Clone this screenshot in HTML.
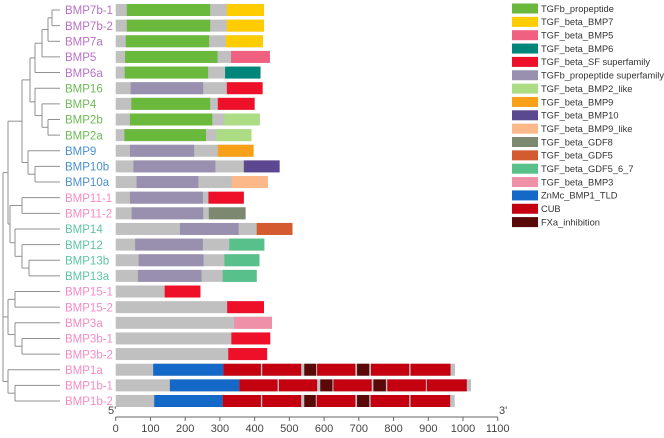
<!DOCTYPE html>
<html><head><meta charset="utf-8"><style>
body{margin:0;background:#fff;}
svg text{font-family:"Liberation Sans",sans-serif;}
</style></head><body>
<svg id="c" width="664" height="433" xmlns="http://www.w3.org/2000/svg"></svg>
<script>
const genes=["BMP7b-1","BMP7b-2","BMP7a","BMP5","BMP6a","BMP16","BMP4","BMP2b","BMP2a","BMP9","BMP10b","BMP10a","BMP11-1","BMP11-2","BMP14","BMP12","BMP13b","BMP13a","BMP15-1","BMP15-2","BMP3a","BMP3b-1","BMP3b-2","BMP1a","BMP1b-1","BMP1b-2"];
const geneColors=["#b872c8","#b872c8","#b872c8","#b872c8","#b872c8","#6cbb55","#6cbb55","#6cbb55","#6cbb55","#4a92cc","#4a92cc","#4a92cc","#f48cc4","#f48cc4","#5cc6a2","#5cc6a2","#5cc6a2","#5cc6a2","#f48cc4","#f48cc4","#f48cc4","#f48cc4","#f48cc4","#f48cc4","#f48cc4","#f48cc4"];
const lengths=[427,427,424,444,417,423,400,415,391,397,472,438,369,374,509,428,414,406,244,427,450,445,436,977,1023,976];
const legendNames=["TGFb_propeptide","TGF_beta_BMP7","TGF_beta_BMP5","TGF_beta_BMP6","TGF_beta_SF superfamily","TGFb_propeptide superfamily","TGF_beta_BMP2_like","TGF_beta_BMP9","TGF_beta_BMP10","TGF_beta_BMP9_like","TGF_beta_GDF8","TGF_beta_GDF5","TGF_beta_GDF5_6_7","TGF_beta_BMP3","ZnMc_BMP1_TLD","CUB","FXa_inhibition"];
const legendColors=["#6ab83c","#ffcc00","#f06080","#00857a","#ee1028","#9990b0","#acdc84","#f8a018","#5c4890","#fcb888","#7c8870","#d45a30","#58c08a","#f090a8","#1468c8","#c40010","#5a0808"];
// domains: [gene index, start, end, legend index]
const domains=[
[0,32,272,0],[0,320,427,1],[1,32,272,0],[1,320,427,1],[2,29,269,0],[2,317,424,1],
[3,27,293,0],[3,332,444,2],[4,26,266,0],[4,315,417,3],[5,43,252,5],[5,320,423,4],
[6,45,272,0],[6,294,400,4],[7,41,278,0],[7,313,415,6],[8,25,260,0],[8,290,391,6],
[9,41,226,5],[9,294,397,7],[10,51,287,5],[10,369,472,8],[11,60,238,5],[11,334,438,9],
[12,41,251,5],[12,267,369,4],[13,46,252,5],[13,268,374,10],[14,185,354,5],[14,406,509,11],
[15,56,251,5],[15,327,428,12],[16,66,253,5],[16,313,414,12],[17,64,247,5],[17,308,406,12],
[18,141,244,4],[19,321,427,4],[20,341,450,13],[21,333,445,4],[22,324,436,4],
[23,108,310,14],[23,310,418,15],[23,422,534,15],[23,543,577,16],[23,580,690,15],[23,695,730,16],[23,735,845,15],[23,849,964,15],
[24,156,356,14],[24,356,466,15],[24,470,580,15],[24,589,624,16],[24,627,737,15],[24,742,778,16],[24,782,893,15],[24,896,1011,15],
[25,111,308,14],[25,308,418,15],[25,422,534,15],[25,543,576,16],[25,579,690,15],[25,695,730,16],[25,734,845,15],[25,849,963,15]];
const ticks=[0,100,200,300,400,500,600,700,800,900,1000,1100];
// tree: [nodeX, children] leaves are gene indices
const tree=[3,[[8,[[22,[[30,[[35,[[42,[[48,[[52,[0,1]],2]],3]],4]],[35,[5,[42,[6,[48,[7,8]]]]]]]],[28,[9,[35,[10,11]]]]]],[10,[[22,[12,13]],[15,[14,[22,[15,[29,[16,17]]]]]]]]]],[8,[[15,[18,19]],[15,[20,[22,[21,22]]]]]],[8,[23,[15,[24,25]]]]]];

const NS="http://www.w3.org/2000/svg",svg=document.getElementById('c');
const X0=115.7,SC=0.3473,Y0=10,DY=15.64,BH=12,AXY=417;
const xs=v=>X0+v*SC, ys=i=>Y0+i*DY;
function mk(t,a,p){const e=document.createElementNS(NS,t);for(const k in a)e.setAttribute(k,a[k]);(p||svg).appendChild(e);return e;}
genes.forEach((g,i)=>{
 const r=mk('rect',{x:xs(0),y:ys(i)-BH/2,width:lengths[i]*SC,height:BH,fill:'#c0c0c0'});
 
 
 const t=mk('text',{x:65,y:ys(i)+4.2,'font-size':11.5,fill:geneColors[i]});t.textContent=g;
 
 
});
domains.forEach(d=>{
 const r=mk('rect',{x:xs(d[1]),y:ys(d[0])-BH/2,width:(d[2]-d[1])*SC,height:BH,fill:legendColors[d[3]]});
 
 
});
const ax=mk('line',{x1:xs(0),x2:xs(1100),y1:AXY,y2:AXY,stroke:'#666'});


ticks.forEach(t=>{
 mk('line',{x1:xs(t),x2:xs(t),y1:AXY,y2:AXY+4,stroke:'#666'});
 const tx=mk('text',{x:xs(t),y:432,'font-size':11,fill:'#444','text-anchor':'middle'});tx.textContent=t;
 
 
});
const t5=mk('text',{x:108,y:414,'font-size':11,fill:'#444'});t5.textContent="5'";


const t3=mk('text',{x:499,y:414,'font-size':11,fill:'#444'});t3.textContent="3'";


const tg=mk('g',{stroke:'#909090','stroke-width':1,fill:'none'});


function draw(n){
 if(typeof n==='number') return {x:60,y:ys(n)};
 const x=n[0];const cs=n[1].map(draw);
 cs.forEach(c=>mk('line',{x1:x,x2:c.x,y1:c.y,y2:c.y},tg));
 const y1=cs[0].y,y2=cs[cs.length-1].y;
 mk('line',{x1:x,x2:x,y1:y1,y2:y2},tg);
 return {x:x,y:(y1+y2)/2};
}
draw(tree);
legendNames.forEach((n,i)=>{
 const y=8.5+i*13.35;
 const r=mk('rect',{x:512,y:y-5,width:26,height:10,fill:legendColors[i]});
 
 
 const t=mk('text',{x:541,y:y+3.3,'font-size':9.3,fill:'#333'});t.textContent=n;
 
 
});
</script>
</body></html>
